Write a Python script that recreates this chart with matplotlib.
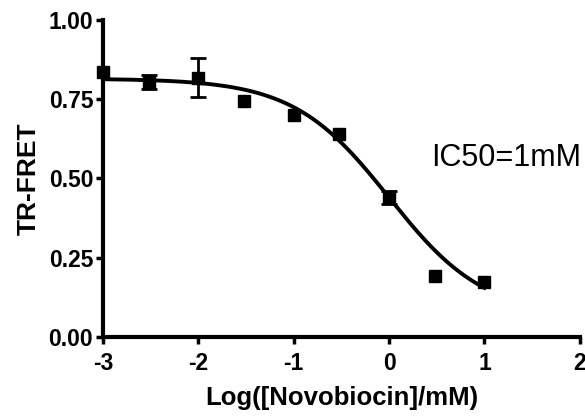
import numpy as np
import matplotlib.pyplot as plt

plt.rcParams['font.family'] = ['Liberation Sans', 'DejaVu Sans']

# measured points
log_conc = [-3.0, -2.52, -2.0, -1.52, -1.0, -0.52, 0.0, 0.48, 1.0]
tr_fret = [0.836, 0.805, 0.818, 0.745, 0.700, 0.640, 0.440, 0.192, 0.173]
tr_err = [0.0, 0.022, 0.062, 0.0, 0.0, 0.0, 0.020, 0.0, 0.0]

# 4PL fit parameters
fit_top = 0.815
fit_bottom = 0.065
fit_logic50 = 0.0
fit_hill = 0.865

x_ticks = [-3, -2, -1, 0, 1, 2]
y_ticks = [0.0, 0.25, 0.5, 0.75, 1.0]

fig = plt.figure(figsize=(5.85, 4.16), dpi=100)
ax = fig.add_axes([0.176, 0.19, 0.815, 0.762])

xs = np.linspace(log_conc[0], log_conc[-1], 200)
ys = fit_bottom + (fit_top - fit_bottom) / (1 + 10 ** ((xs - fit_logic50) * fit_hill))
ax.plot(xs, ys, color='black', lw=2.8, zorder=2)

# error bars only where there is a spread
ex = [x for x, e in zip(log_conc, tr_err) if e > 0]
ey = [y for y, e in zip(tr_fret, tr_err) if e > 0]
ee = [e for e in tr_err if e > 0]
ax.errorbar(ex, ey, yerr=ee, fmt='none', ecolor='black',
            elinewidth=2, capsize=6, capthick=2, zorder=3)
ax.plot(log_conc, tr_fret, 's', color='black', ms=8.5, zorder=4, clip_on=False)

ax.text(0.44, 0.565, 'IC50=1mM', fontsize=22, va='center', ha='left')

ax.set_xlim(-3, 2)
ax.set_ylim(0, 1)
ax.set_xticks(x_ticks)
ax.set_xticklabels([str(t) for t in x_ticks])
ax.set_yticks(y_ticks)
ax.set_yticklabels(['0.00', '0.25', '0.50', '0.75', '1.00'])

for s in ['top', 'right']:
    ax.spines[s].set_visible(False)
for s in ['left', 'bottom']:
    ax.spines[s].set_linewidth(3)
ax.tick_params(direction='out', length=5, width=2.5, labelsize=16.5, pad=2)
ax.tick_params(axis='x', pad=6)
for lbl in ax.get_xticklabels() + ax.get_yticklabels():
    lbl.set_fontweight('bold')

ax.set_xlabel('Log([Novobiocin]/mM)', fontsize=18.5, fontweight='bold', labelpad=8)
ax.set_ylabel('TR-FRET', fontsize=19, fontweight='bold', labelpad=6)

fig.savefig('out.png', dpi=100)
